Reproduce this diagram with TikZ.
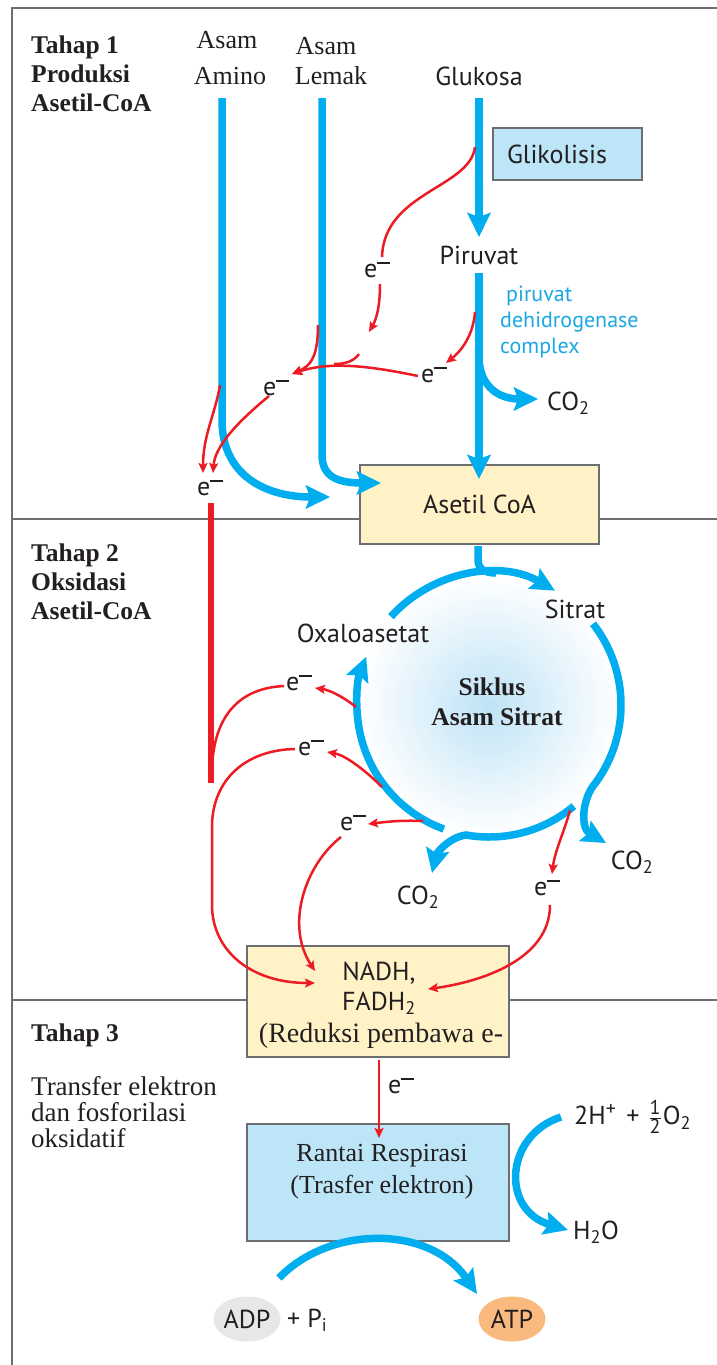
\documentclass[tikz,border=0pt]{standalone}
\usepackage{fontspec}
\setmainfont{Liberation Serif}
\setsansfont{PT Sans}
\usetikzlibrary{arrows.meta,calc,shapes.geometric}

\definecolor{cyanflow}{HTML}{00AEEF}
\definecolor{redflow}{HTML}{ED1C24}
\definecolor{framegray}{HTML}{6D6E71}
\definecolor{inkc}{HTML}{231F20}
\definecolor{boxyellow}{HTML}{FFF2C6}
\definecolor{boxblue}{HTML}{BDE5F8}
\definecolor{adpgray}{HTML}{E6E7E8}
\definecolor{atporange}{HTML}{F9B97F}
\definecolor{labelcyan}{HTML}{1BA8E2}
\definecolor{tcablue}{HTML}{BEE3F6}

% electron symbol: e with a raised long minus
\newcommand{\elec}{e\raisebox{0.5em}{\rule{0.48em}{0.075em}}}
% small stacked one-half
\newcommand{\fracdigit}[1]{\mbox{\fontsize{20}{20}\selectfont\sffamily #1}}
\newcommand{\halffrac}{$\frac{\fracdigit{1}}{\fracdigit{2}}$}

\tikzset{
  sanslabel/.style={font=\fontsize{26}{30}\selectfont\sffamily, text=inkc, inner sep=0pt},
  seriflabel/.style={font=\fontsize{26}{29}\selectfont\rmfamily, text=inkc, inner sep=0pt},
  boldlabel/.style={font=\fontsize{25.5}{29}\selectfont\rmfamily\bfseries, text=inkc, inner sep=0pt},
  procbox/.style={draw=framegray, line width=1.2pt, inner sep=0pt},
  flow/.style={draw=cyanflow, line width=7.5pt, -{Stealth[length=24pt,width=23pt,inset=4pt]}},
  flowline/.style={draw=cyanflow, line width=7.5pt},
  etrans/.style={draw=redflow, line width=2.5pt, -{Stealth[length=10pt,width=9pt,inset=2pt]}},
  eline/.style={draw=redflow, line width=2.5pt},
  elabel/.style={sanslabel},
}

\begin{document}
\begin{tikzpicture}[x=1pt,y=-1pt]
\useasboundingbox (0,0) rectangle (717,1365);
\fill[white] (0,0) rectangle (717,1365);

% ---------- frame and stage dividers ----------
\draw[framegray, line width=1.6pt] (12,1367) -- (12,8) -- (719,8);
\draw[framegray, line width=1.4pt] (12,519) -- (719,519);
\draw[framegray, line width=1.4pt] (12,1000) -- (719,1000);

% ---------- stage captions ----------
\node[boldlabel, align=left, anchor=west] (stage1) at (31,74) {Tahap 1\\Produksi\\Asetil-CoA};
\node[boldlabel, align=left, anchor=west] (stage2) at (31,582) {Tahap 2\\Oksidasi\\Asetil-CoA};
\node[boldlabel, anchor=west] (stage3) at (31,1035) {Tahap 3};
\node[seriflabel, font=\fontsize{27}{26}\selectfont\rmfamily, align=left, anchor=west] (stage3txt) at (31,1112) {Transfer elektron\\dan fosforilasi\\oksidatif};

% ---------- fuel sources ----------
\node[seriflabel] (aa1) at (227,40) {Asam};
\node[seriflabel] (aa2) at (230,76) {Amino};
\node[seriflabel] (fa1) at (326,46) {Asam};
\node[seriflabel] (fa2) at (331,76) {Lemak};
\node[sanslabel] (glc) at (479,76) {Glukosa};

\node[procbox, fill=boxblue, minimum width=149pt, minimum height=52pt] (glik) at (567.5,154) {};
\node[sanslabel] (glikt) at (557,154) {Glikolisis};
\node[sanslabel] (pyr) at (479,255) {Piruvat};
\node[font=\fontsize{22}{26}\selectfont\sffamily, text=labelcyan, inner sep=0pt, align=left, anchor=west] (pdh) at (500,322) {\hspace{6pt}piruvat\\dehidrogenase\\complex};
\node[sanslabel, anchor=west] (co2a) at (547,403) {CO\textsubscript{2}};

\node[procbox, fill=boxyellow, minimum width=239pt, minimum height=79pt, sanslabel] (acoa) at (479.5,504.5) {Asetil CoA};

% ---------- citric acid cycle ----------
\coordinate (tca) at (489,705);
\shade[inner color=tcablue, outer color=white] (tca) circle[radius=131];
\node[boldlabel] (sik1) at (492,687) {Siklus};
\node[boldlabel] (sik2) at (497,717) {Asam Sitrat};
\node[sanslabel] (cit) at (575,609) {Sitrat};
\node[sanslabel] (oaa) at (363,633) {Oxaloasetat};
\node[sanslabel] (co2b) at (632,862) {CO\textsubscript{2}};
\node[sanslabel] (co2c) at (418,897) {CO\textsubscript{2}};

% ---------- electron carriers and respiratory chain ----------
\node[procbox, fill=boxyellow, minimum width=262pt, minimum height=111pt] (nadh) at (378,1001.5) {};
\node[sanslabel] (nadht) at (379,973) {NADH,};
\node[sanslabel] (fadht) at (379,1003) {FADH\textsubscript{2}};
\node[seriflabel, font=\fontsize{28}{30}\selectfont\rmfamily] (redt) at (381,1036) {(Reduksi pembawa e-};

\node[procbox, fill=boxblue, minimum width=262pt, minimum height=117pt] (chain) at (378,1182.5) {};
\node[seriflabel] (chain1) at (382,1156) {Rantai Respirasi};
\node[seriflabel] (chain2) at (382,1187) {(Trasfer elektron)};

\node[sanslabel, anchor=west] (oxy) at (574,1117) {2H\textsuperscript{\fontsize{20}{20}\selectfont +}\hspace{3pt} + \hspace{2pt}\halffrac\hspace{1pt}O\textsubscript{2}};
\node[sanslabel, anchor=west] (water) at (573,1232) {H\textsubscript{2}O};

\node[ellipse, fill=adpgray, minimum width=67pt, minimum height=45pt, inner sep=0pt, sanslabel] (adp) at (247,1319) {ADP};
\node[sanslabel, anchor=west] (pi) at (287,1320) {+ P\textsubscript{i}};
\node[ellipse, fill=atporange, minimum width=67pt, minimum height=45pt, inner sep=0pt, sanslabel] (atp) at (512,1319) {ATP};

% ---------- electron labels ----------
\node[elabel] (e1) at (377,270) {\elec};
\node[elabel] (e2) at (434,375) {\elec};
\node[elabel] (e3) at (276,388) {\elec};
\node[elabel] (e4) at (210,488) {\elec};
\node[elabel] (e5) at (299,683) {\elec};
\node[elabel] (e6) at (311,748) {\elec};
\node[elabel] (e7) at (353,823) {\elec};
\node[elabel] (e8) at (547,888) {\elec};
\node[elabel] (e9) at (401,1086) {\elec};

% ---------- stage 1 carbon flow ----------
\draw[flow] (222,98) -- (222,420) .. controls (222,475) and (265,497) .. (330,497);
\draw[flow] (322,98) -- (322,455) .. controls (322,478) and (340,483) .. (381,483);
\draw[flow] (479,98) -- (479,237);
\draw[flow] (479,273) -- (479,479);
\draw[flow] (479,360) .. controls (481,388) and (500,399) .. (538,399);

% ---------- stage 1 electrons ----------
\draw[eline] (475,147) .. controls (470,188) and (384,192) .. (382,257);
\draw[etrans] (380,284) .. controls (380,305) and (377,318) .. (369,332);
\draw[etrans] (475,312) .. controls (473,337) and (460,352) .. (446,363);
\draw[etrans] (418,376) .. controls (370,366) and (330,361) .. (292,374);
\draw[eline] (359,354) .. controls (354,361) and (346,364) .. (334,364);
\draw[etrans] (318,325) .. controls (318,358) and (310,366) .. (292,374);
\draw[etrans] (269,396) .. controls (240,420) and (215,445) .. (213,473);
\draw[etrans] (220,385) .. controls (215,415) and (203,435) .. (203,473);
\draw[redflow, line width=6pt] (211,503) -- (211,783);

% ---------- cycle arcs ----------
\draw[flowline] (478,546) -- (478,560) .. controls (478,569) and (485,573) .. (496,573);
\draw[flow] ($(tca)+(-138:132)$) arc[start angle=-138, end angle=-60, radius=132];
\draw[flow] ($(tca)+(-38:132)$) arc[start angle=-38, end angle=36, radius=132]
  .. controls (582,798) and (580,828) .. (606,843);
\draw[flow] ($(tca)+(50:132)$) arc[start angle=50, end angle=100, radius=132]
  .. controls (450,837) and (437,852) .. (432,873);
\draw[flow] ($(tca)+(110:132)$) arc[start angle=110, end angle=201.5, radius=132];

% ---------- stage 2 electrons ----------
\draw[etrans] (356,707) .. controls (345,698) and (330,690) .. (315,688);
\draw[eline] (284,686) .. controls (240,688) and (214,715) .. (212,768);
\draw[etrans] (382,787) .. controls (365,770) and (345,755) .. (327,752);
\draw[etrans] (295,749) .. controls (245,750) and (213,780) .. (212,825) -- (212,905)
  .. controls (212,950) and (250,983) .. (315,983);
\draw[etrans] (423,821) .. controls (400,820) and (385,822) .. (368,824);
\draw[etrans] (341,837) .. controls (305,865) and (285,925) .. (315,971);
\draw[etrans] (570,810) .. controls (565,830) and (555,850) .. (552,874);
\draw[etrans] (550,905) .. controls (550,960) and (480,982) .. (428,989);

% ---------- stage 3 ----------
\draw[etrans] (379,1060) -- (379,1138);
\draw[flow] (561,1117) .. controls (505,1135) and (500,1210) .. (568,1230);
\draw[flow] (279,1278) .. controls (330,1225) and (430,1225) .. (477,1294);
\end{tikzpicture}
\end{document}
